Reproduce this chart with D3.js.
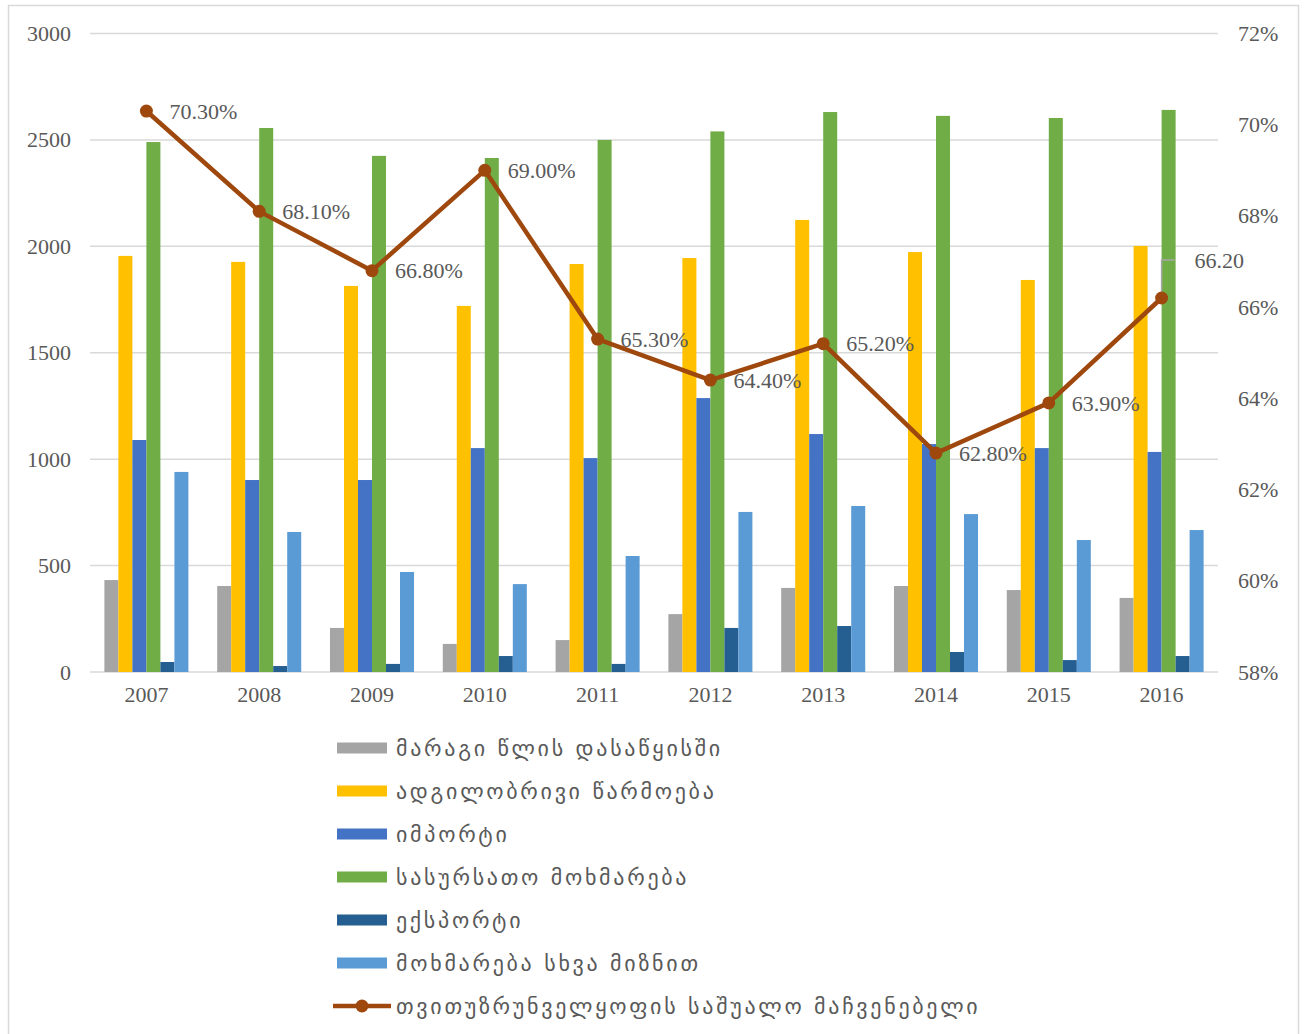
<!DOCTYPE html>
<html><head><meta charset="utf-8">
<script src="https://cdnjs.cloudflare.com/ajax/libs/d3/7.8.5/d3.min.js"></script>
<style>body{margin:0;background:#fff}svg{display:block}</style>
</head><body>
<svg id="c" width="1306" height="1034"></svg>
<script>
const years = ["2007","2008","2009","2010","2011","2012","2013","2014","2015","2016"];
const seriesNames = ["მარაგი წლის დასაწყისში","ადგილობრივი წარმოება","იმპორტი","სასურსათო მოხმარება","ექსპორტი","მოხმარება სხვა მიზნით"];
const stockStart   = [432,404,207,132,150,272,395,404,385,348];
const localProd    = [1955,1927,1814,1720,1917,1945,2124,1973,1842,2002];
const imports      = [1090,902,902,1052,1005,1287,1118,1071,1052,1034];
const foodConsump  = [2490,2556,2425,2415,2500,2540,2631,2613,2603,2641];
const exportsV     = [47,28,38,75,38,207,216,94,56,75];
const otherUse     = [940,658,470,413,545,752,780,742,620,667];
const selfSuff     = [70.3,68.1,66.8,69.0,65.3,64.4,65.2,62.8,63.9,66.2];
const selfSuffLabels = ["70.30%","68.10%","66.80%","69.00%","65.30%","64.40%","65.20%","62.80%","63.90%","66.20"];
const lineName = "თვითუზრუნველყოფის საშუალო მაჩვენებელი";
const leftTicks = [0,500,1000,1500,2000,2500,3000];
const rightTicks = [58,60,62,64,66,68,70,72];

const colors = ["#A5A5A5","#FFC000","#4472C4","#70AD47","#255E91","#5B9BD5"];
const lineColor = "#9E480E";
const seriesVals = [stockStart,localProd,imports,foodConsump,exportsV,otherUse];

const svg = d3.select("#c");
const L = 90, R = 1218, T = 33.5, B = 672;
const num = "'Liberation Serif','Times New Roman',serif";
const geo = "'DejaVu Sans',sans-serif";
const txt = "#595959";

svg.append("rect").attr("x",8.5).attr("y",5.5).attr("width",1290).attr("height",1040)
  .attr("fill","#fff").attr("stroke","#D9D9D9").attr("stroke-width",1.5);

const x0 = d3.scaleBand().domain(years).range([L,R]).paddingInner(0.255).paddingOuter(0.1275);
const x1 = d3.scaleBand().domain(d3.range(6)).range([0,x0.bandwidth()]);
const y = d3.scaleLinear().domain([0,3000]).range([B,T]);
const y2 = d3.scaleLinear().domain([58,72]).range([B,T]);

// gridlines
svg.append("g").selectAll("line").data(leftTicks).join("line")
  .attr("x1",L).attr("x2",R).attr("y1",d=>y(d)).attr("y2",d=>y(d))
  .attr("stroke","#D9D9D9").attr("stroke-width",1.5);

// left axis labels
const la = svg.append("g").attr("transform",`translate(${L},0)`)
  .call(d3.axisLeft(y).tickValues(leftTicks).tickSize(0).tickPadding(19).tickFormat(d3.format("d")));
la.select(".domain").remove();
la.selectAll("text").attr("font-family",num).attr("font-size",22).attr("fill",txt);

// right axis labels
const ra = svg.append("g").attr("transform",`translate(${R},0)`)
  .call(d3.axisRight(y2).tickValues(rightTicks).tickSize(0).tickPadding(20).tickFormat(d=>d+"%"));
ra.select(".domain").remove();
ra.selectAll("text").attr("font-family",num).attr("font-size",22).attr("fill",txt);

// bottom axis
const ba = svg.append("g").attr("transform",`translate(0,${B})`)
  .call(d3.axisBottom(x0).tickSize(0).tickPadding(14));
ba.select(".domain").remove();
ba.selectAll("text").attr("font-family",num).attr("font-size",22).attr("fill",txt);

// bars
const g = svg.append("g");
years.forEach((yr,i)=>{
  g.append("g").attr("transform",`translate(${x0(yr)},0)`)
   .selectAll("rect").data(seriesVals.map((s,k)=>({k,v:s[i]}))).join("rect")
   .attr("x",d=>x1(d.k)).attr("width",x1.bandwidth())
   .attr("y",d=>y(d.v)).attr("height",d=>B-y(d.v)).attr("fill",d=>colors[d.k]);
});

// line
const cx = yr => x0(yr)+x0.bandwidth()/2;
const pts = years.map((yr,i)=>[cx(yr),y2(selfSuff[i])]);
svg.append("path").attr("d",d3.line()(pts)).attr("fill","none")
  .attr("stroke",lineColor).attr("stroke-width",4.5).attr("stroke-linejoin","round");
// leader line for last label
const last = pts[pts.length-1];
svg.append("path").attr("d",`M${last[0]},${last[1]}V${last[1]-38}H${last[0]+13}`)
  .attr("fill","none").attr("stroke","#A6A6A6").attr("stroke-width",1.5);
svg.append("g").selectAll("circle").data(pts).join("circle")
  .attr("cx",d=>d[0]).attr("cy",d=>d[1]).attr("r",6.5).attr("fill",lineColor);
svg.append("g").selectAll("text").data(pts).join("text")
  .attr("x",(d,i)=> i===pts.length-1 ? d[0]+33 : d[0]+23)
  .attr("y",(d,i)=> i===pts.length-1 ? d[1]-38 : d[1])
  .attr("dy","0.35em")
  .attr("font-family",num).attr("font-size",22).attr("fill",txt)
  .text((d,i)=>selfSuffLabels[i]);

// legend
const lg = svg.append("g");
const legY0 = 748, legStep = 43;
seriesNames.forEach((n,k)=>{
  const yy = legY0 + k*legStep;
  lg.append("rect").attr("x",337).attr("y",yy-5.5).attr("width",50).attr("height",11).attr("fill",colors[k]);
  lg.append("text").attr("x",396).attr("y",yy).attr("dy","0.35em")
    .attr("font-family",geo).attr("font-size",22).attr("letter-spacing",2.7).attr("fill",txt).text(n);
});
{
  const yy = legY0 + 6*legStep;
  lg.append("line").attr("x1",333).attr("x2",391).attr("y1",yy).attr("y2",yy)
    .attr("stroke",lineColor).attr("stroke-width",4.5);
  lg.append("circle").attr("cx",362).attr("cy",yy).attr("r",6.5).attr("fill",lineColor);
  lg.append("text").attr("x",396).attr("y",yy).attr("dy","0.35em")
    .attr("font-family",geo).attr("font-size",22).attr("letter-spacing",2.7).attr("fill",txt).text(lineName);
}
</script>
</body></html>
